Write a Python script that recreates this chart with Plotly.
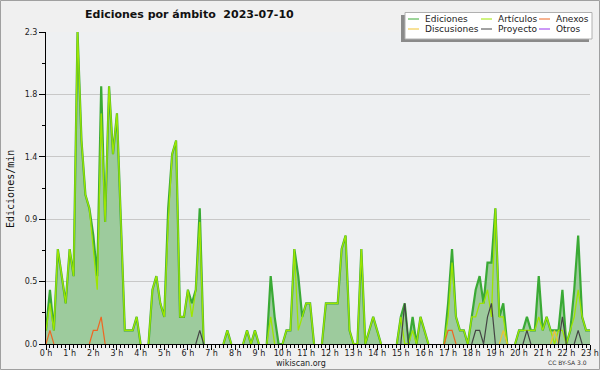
import plotly.graph_objects as go

# ---- data (values per 10-minute slot, 0:00 .. 23:00) ----
ediciones = [0.1, 0.4, 0.1, 0.7, 0.5, 0.3, 0.7, 0.5, 2.3, 1.5,
             1.1, 1.0, 0.8, 0.5, 1.9, 0.9, 1.9, 1.4, 1.7, 0.9,
             0.1, 0.1, 0.1, 0.2, 0, 0, 0, 0.4, 0.5, 0.3,
             0.2, 1.0, 1.4, 1.5, 0.2, 0.2, 0.4, 0.3, 0.4, 1.0,
             0, 0, 0, 0, 0, 0, 0.1, 0, 0, 0,
             0, 0.1, 0, 0.1, 0, 0, 0, 0.5, 0.2, 0,
             0, 0.1, 0.1, 0.7, 0.5, 0.2, 0.3, 0.3, 0, 0,
             0, 0.3, 0.3, 0.3, 0.3, 0.7, 0.8, 0.1, 0, 0,
             0.7, 0, 0.1, 0.2, 0.1, 0, 0, 0, 0, 0,
             0.2, 0.3, 0, 0.2, 0, 0.2, 0.1, 0, 0, 0,
             0, 0, 0.3, 0.7, 0.2, 0.1, 0.1, 0, 0.2, 0.4,
             0.5, 0.3, 0.6, 0.6, 1.0, 0.2, 0.3, 0, 0, 0,
             0.1, 0.1, 0.2, 0.1, 0.1, 0.5, 0.1, 0.2, 0.1, 0.1,
             0.1, 0.4, 0, 0.1, 0.4, 0.8, 0.2, 0.1, 0.1]
articulos = [0.1, 0.3, 0.1, 0.7, 0.5, 0.3, 0.7, 0.5, 2.3, 1.5,
             1.1, 1.0, 0.7, 0.4, 1.7, 0.9, 1.9, 1.4, 1.7, 0.9,
             0.1, 0.1, 0.1, 0.2, 0, 0, 0, 0.4, 0.5, 0.3,
             0.2, 0.9, 1.4, 1.5, 0.2, 0.2, 0.4, 0.2, 0.4, 0.9,
             0, 0, 0, 0, 0, 0, 0.1, 0, 0, 0,
             0, 0.1, 0, 0.1, 0, 0, 0, 0.2, 0, 0,
             0, 0.1, 0.1, 0.7, 0.1, 0.2, 0.3, 0.3, 0, 0,
             0, 0.3, 0.3, 0.3, 0.3, 0.7, 0.8, 0.1, 0, 0,
             0.7, 0, 0.1, 0.2, 0.1, 0, 0, 0, 0, 0,
             0.2, 0, 0, 0.1, 0, 0.2, 0.1, 0, 0, 0,
             0, 0, 0.2, 0.6, 0.2, 0.1, 0.1, 0, 0.2, 0.2,
             0.3, 0.3, 0.4, 0.2, 1.0, 0.2, 0.2, 0, 0, 0,
             0.1, 0.1, 0.1, 0.1, 0.1, 0.2, 0.1, 0.2, 0.1, 0,
             0.1, 0.1, 0, 0.1, 0.2, 0.4, 0.2, 0.1, 0.1]
anexos_pts = {1: 0.1, 12: 0.1, 13: 0.1, 14: 0.2, 102: 0.1, 103: 0.1}
proyecto_pts = {39: 0.1, 91: 0.3, 109: 0.1, 110: 0.1, 112: 0.2, 113: 0.3,
                122: 0.1, 131: 0.2, 135: 0.1}
discusiones_pts = {116: 0.1, 129: 0.1}
otros_pts = {}

N = len(ediciones)
hours = [i / 6 for i in range(N)]
anexos = [anexos_pts.get(i, 0) for i in range(N)]
proyecto = [proyecto_pts.get(i, 0) for i in range(N)]
discusiones = [discusiones_pts.get(i, 0) for i in range(N)]
otros = [otros_pts.get(i, 0) for i in range(N)]

hour_ticks = list(range(24))
hour_labels = [f"{h} h" for h in hour_ticks]
y_ticks = [0, 0.46, 0.92, 1.38, 1.84, 2.3]
y_labels = ["0.0", "0.5", "0.9", "1.4", "1.8", "2.3"]
y_minor = [0.23, 0.69, 1.15, 1.61, 2.07]


def mask(vals):
    out = []
    for i, v in enumerate(vals):
        prev = vals[i - 1] if i > 0 else 0
        nxt = vals[i + 1] if i < len(vals) - 1 else 0
        out.append(None if (v == 0 and prev == 0 and nxt == 0) else v)
    return out


# ---- geometry helpers (pixel -> paper) ----
L, R, T, B = 46, 590, 32, 344
W, H = 600, 370


def px(x):
    return (x - L) / (R - L)


def py(y):
    return (B - y) / (B - T)


C_ED = "#3aaa35"
C_FILL = "#9dcb9d"
C_ART = "#9ee600"
C_ANX = "#ee6622"
C_DIS = "#f0c330"
C_PRO = "#444444"
C_OTR = "#9933ee"

fig = go.Figure()
fig.add_trace(go.Scatter(x=hours, y=mask(ediciones), name="Ediciones", mode="lines",
                         fill="tozeroy", fillcolor=C_FILL,
                         line=dict(color=C_ED, width=2.2), showlegend=False))
fig.add_trace(go.Scatter(x=hours, y=mask(articulos), name="Artículos", mode="lines",
                         line=dict(color=C_ART, width=1.3), showlegend=False))
fig.add_trace(go.Scatter(x=hours, y=mask(anexos), name="Anexos", mode="lines",
                         line=dict(color=C_ANX, width=1.2), showlegend=False))
fig.add_trace(go.Scatter(x=hours, y=mask(discusiones), name="Discusiones", mode="lines",
                         line=dict(color=C_DIS, width=1.2), showlegend=False))
fig.add_trace(go.Scatter(x=hours, y=mask(proyecto), name="Proyecto", mode="lines",
                         line=dict(color=C_PRO, width=1.2), showlegend=False))
fig.add_trace(go.Scatter(x=hours, y=mask(otros), name="Otros", mode="lines",
                         line=dict(color=C_OTR, width=1.2), showlegend=False))

shapes = []
annotations = []

# outer border
shapes.append(dict(type="rect", xref="paper", yref="paper",
                   x0=px(0.5), x1=px(599.5), y0=py(0.5), y1=py(369.5),
                   line=dict(color="#a0a0a0", width=1), layer="below"))

# legend box with shadow
shapes.append(dict(type="rect", xref="paper", yref="paper",
                   x0=px(401), x1=px(589), y0=py(15), y1=py(42),
                   fillcolor="#8a8a8a", line=dict(width=0)))
shapes.append(dict(type="rect", xref="paper", yref="paper",
                   x0=px(405), x1=px(592), y0=py(12.5), y1=py(39),
                   fillcolor="white", line=dict(color="#b0b0b0", width=1)))

legend_items = [
    ("Ediciones", C_ED, 408, 19), ("Artículos", C_ART, 481, 19), ("Anexos", C_ANX, 539, 19),
    ("Discusiones", C_DIS, 408, 29), ("Proyecto", C_PRO, 481, 29), ("Otros", C_OTR, 539, 29),
]
for name, col, lx, ly in legend_items:
    shapes.append(dict(type="line", xref="paper", yref="paper",
                       x0=px(lx), x1=px(lx + 11), y0=py(ly), y1=py(ly),
                       line=dict(color=col, width=1)))
    annotations.append(dict(text=name, xref="paper", yref="paper",
                            x=px(lx + 15), y=py(ly), xanchor="left", yanchor="middle",
                            showarrow=False,
                            font=dict(family="DejaVu Sans", size=9, color="#222")))

# y axis title
annotations.append(dict(text="Ediciones/min", xref="paper", yref="paper",
                        x=px(10), y=py(189), textangle=-90, showarrow=False,
                        xanchor="center", yanchor="middle",
                        font=dict(family="DejaVu Sans Mono", size=10, color="#111")))
# footer texts
annotations.append(dict(text="wikiscan.org", xref="paper", yref="paper",
                        x=px(301), y=py(363), showarrow=False,
                        xanchor="center", yanchor="middle",
                        font=dict(family="DejaVu Sans", size=8, color="#222")))
annotations.append(dict(text="CC BY-SA 3.0", xref="paper", yref="paper",
                        x=px(589), y=py(362.5), showarrow=False,
                        xanchor="right", yanchor="middle",
                        font=dict(family="DejaVu Sans", size=6, color="#333")))

fig.update_layout(
    width=W, height=H, autosize=False,
    margin=dict(l=L, r=W - R, t=T, b=H - B, pad=0, autoexpand=False),
    paper_bgcolor="#f0f0f0",
    plot_bgcolor="#eef0f2",
    title=dict(text="<b>Ediciones por ámbito  2023-07-10</b>",
               x=85 / W, xanchor="left", y=1 - 14 / H, yanchor="middle",
               font=dict(family="DejaVu Sans", size=11, color="#111")),
    showlegend=False,
    shapes=shapes,
    annotations=annotations,
    xaxis=dict(range=[0, 23], tickmode="array", tickvals=hour_ticks, ticktext=hour_labels,
               automargin=False,
               ticks="outside", ticklen=5, tickcolor="black", tickwidth=1,
               ticklabelstandoff=-4,
               showgrid=False, zeroline=False,
               showline=True, linecolor="black", linewidth=1,
               tickfont=dict(family="DejaVu Sans", size=8, color="#222"),
               minor=dict(dtick=1 / 6, tick0=0, ticks="outside", ticklen=3,
                          tickcolor="black", tickwidth=1, showgrid=False)),
    yaxis=dict(range=[0, 2.3], tickmode="array", tickvals=y_ticks, ticktext=y_labels,
               automargin=False,
               ticks="outside", ticklen=6, tickcolor="black", tickwidth=1,
               showgrid=True, gridcolor="#c8c8c8", gridwidth=1, zeroline=False,
               showline=True, linecolor="black", linewidth=1,
               tickfont=dict(family="DejaVu Sans", size=8, color="#222"),
               minor=dict(tickmode="array", tickvals=y_minor, ticks="outside", ticklen=3,
                          tickcolor="black", tickwidth=1, showgrid=False)),
)

fig.write_html("out.html",
               config={"displayModeBar": False, "staticPlot": True},
               post_script="document.body.style.margin='0';document.body.style.padding='0';"
                           "document.body.style.overflow='hidden';")
